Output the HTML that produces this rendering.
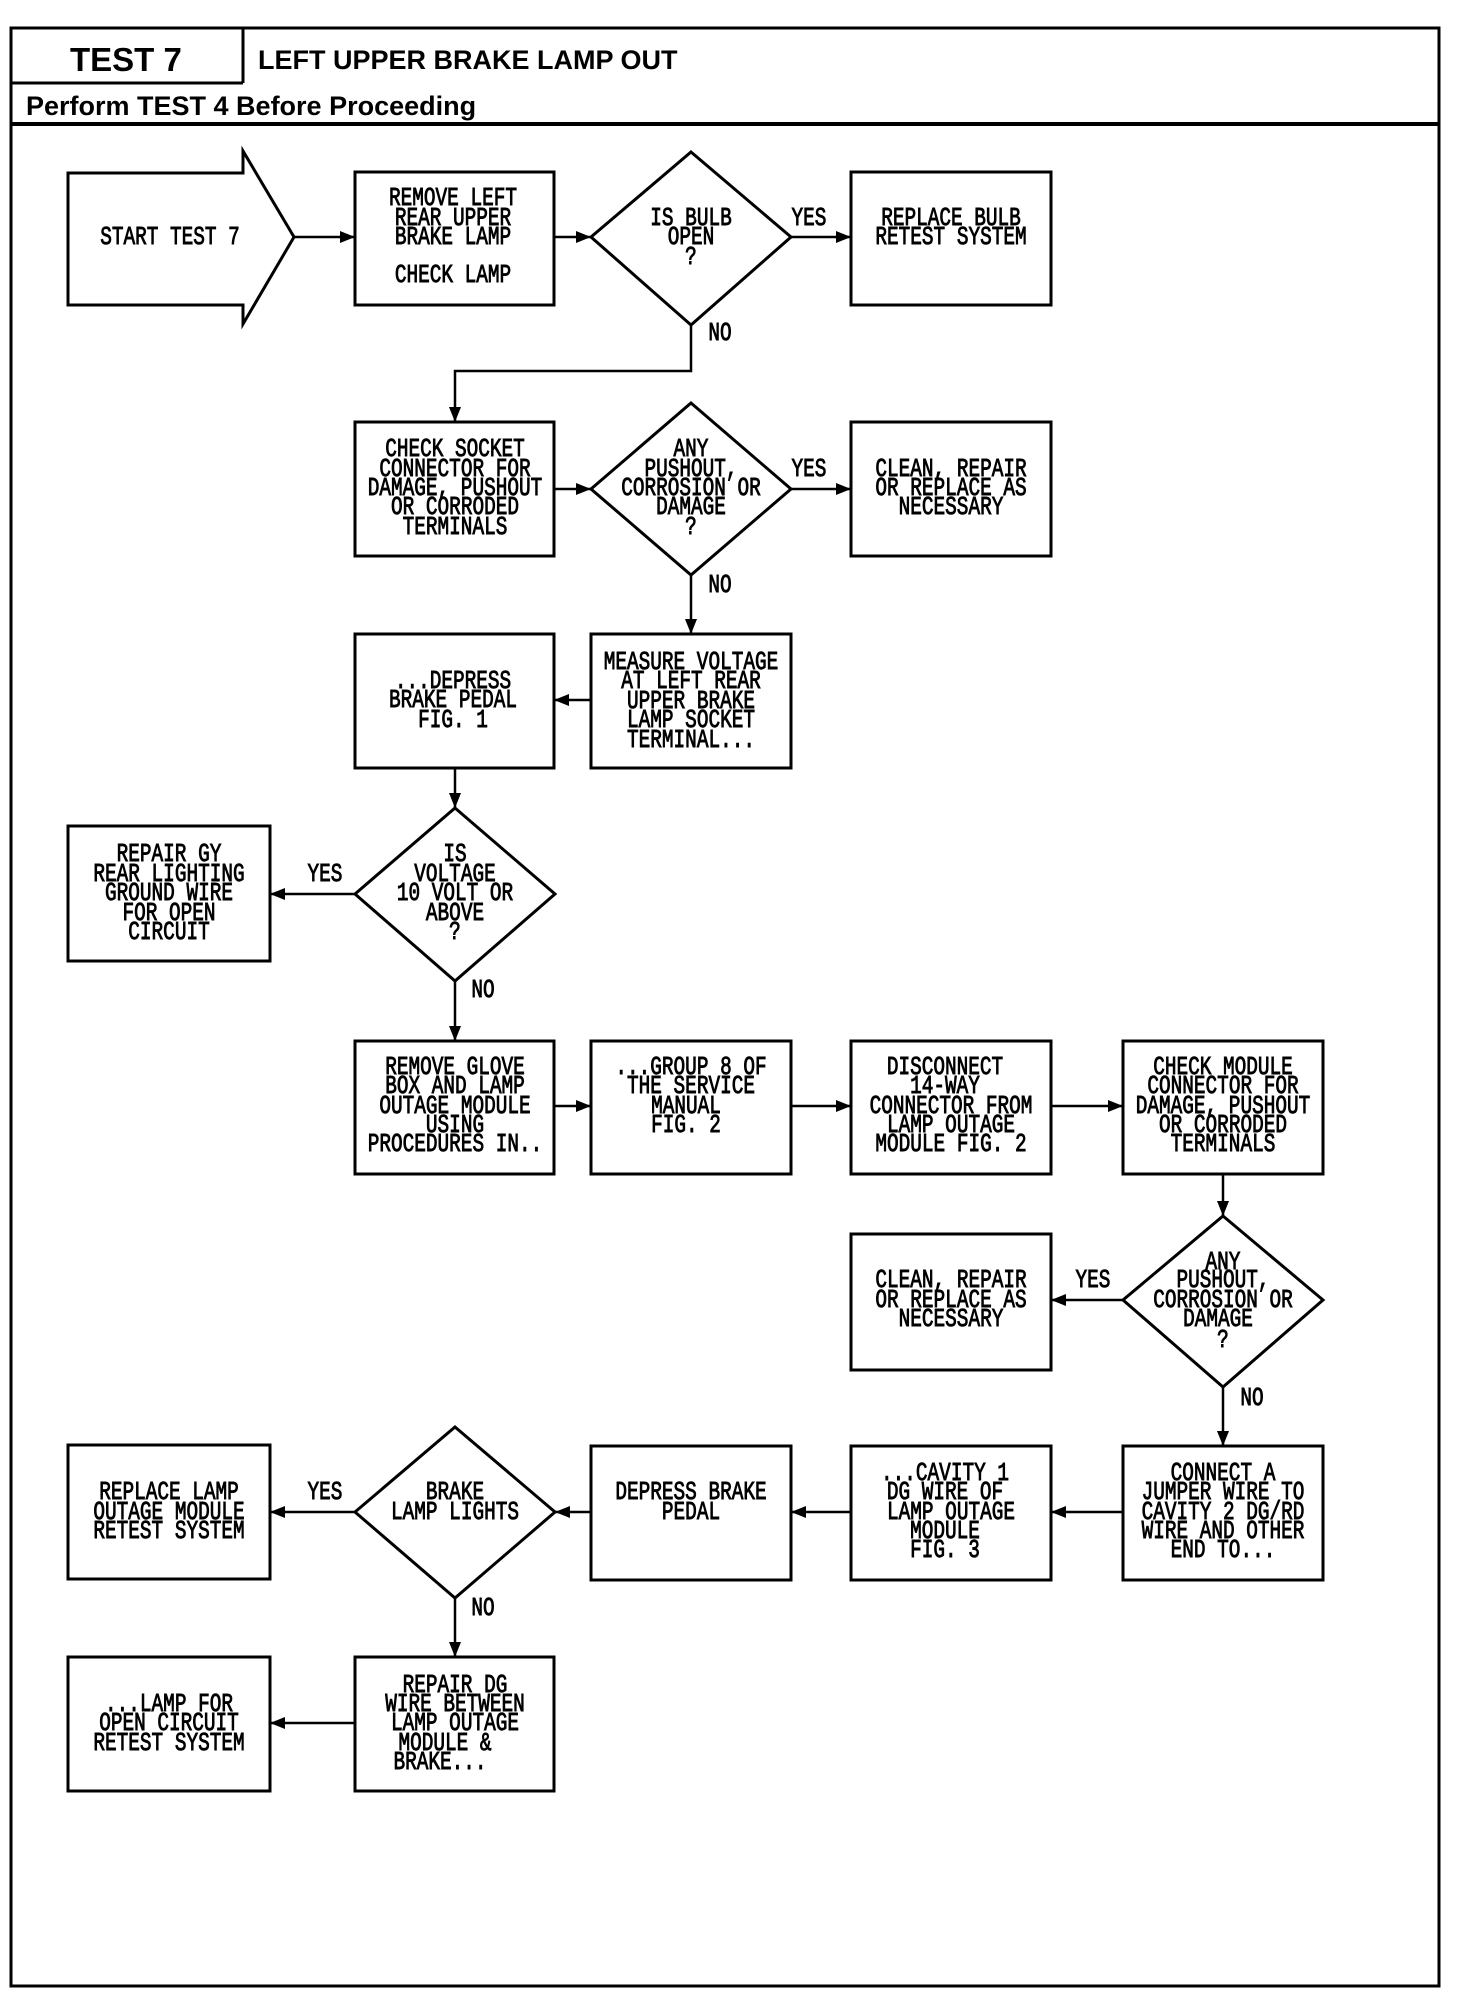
<!DOCTYPE html>
<html><head><meta charset="utf-8"><style>
html,body{margin:0;padding:0;background:#fff;}
svg{display:block;}
.t{font-family:"Liberation Mono",monospace;font-size:20px;fill:#000;stroke:#000;stroke-width:0.7;}
.h{font-family:"Liberation Sans",sans-serif;font-weight:bold;fill:#000;}
</style></head><body>
<svg width="1472" height="2004" viewBox="0 0 1472 2004" xmlns="http://www.w3.org/2000/svg">
<defs>
<marker id="a" viewBox="0 0 10 10" refX="10" refY="5" markerWidth="6" markerHeight="6" orient="auto"><path d="M0,1 L10,5 L0,9 z" fill="#000"/></marker>
</defs>
<g fill="none" stroke="#000" stroke-width="3">
<rect x="11" y="28" width="1428" height="1958"/>
<line x1="243" y1="28" x2="243" y2="83"/>
<line x1="11" y1="83" x2="243" y2="83"/>
<line x1="11" y1="124" x2="1439" y2="124" stroke-width="4"/>
<path d="M68,173 L243,173 L243,151 L294,237 L243,324 L243,305 L68,305 Z"/>
<rect x="355" y="172" width="199" height="133"/>
<path d="M691,152 L791,237 L691,325 L591,237 Z"/>
<rect x="851" y="172" width="200" height="133"/>
<rect x="355" y="422" width="199" height="134"/>
<path d="M691,403 L791,489 L691,575 L591,489 Z"/>
<rect x="851" y="422" width="200" height="134"/>
<rect x="355" y="634" width="199" height="134"/>
<rect x="591" y="634" width="200" height="134"/>
<path d="M455,808 L555,894 L455,981 L355,894 Z"/>
<rect x="68" y="826" width="202" height="135"/>
<rect x="355" y="1041" width="199" height="133"/>
<rect x="591" y="1041" width="200" height="133"/>
<rect x="851" y="1041" width="200" height="133"/>
<rect x="1123" y="1041" width="200" height="133"/>
<path d="M1223,1216 L1323,1300 L1223,1387 L1123,1300 Z"/>
<rect x="851" y="1234" width="200" height="136"/>
<rect x="68" y="1445" width="202" height="134"/>
<path d="M455,1427 L555,1512 L455,1598 L355,1512 Z"/>
<rect x="591" y="1446" width="200" height="134"/>
<rect x="851" y="1446" width="200" height="134"/>
<rect x="1123" y="1446" width="200" height="134"/>
<rect x="68" y="1657" width="202" height="134"/>
<rect x="355" y="1657" width="199" height="134"/>
</g>
<g fill="none" stroke="#000" stroke-width="2.5" marker-end="url(#a)">
<line x1="294" y1="237" x2="355" y2="237"/>
<line x1="554" y1="237" x2="591" y2="237"/>
<line x1="791" y1="237" x2="851" y2="237"/>
<polyline points="691,325 691,371 455,371 455,422"/>
<line x1="554" y1="489" x2="591" y2="489"/>
<line x1="791" y1="489" x2="851" y2="489"/>
<line x1="691" y1="575" x2="691" y2="634"/>
<line x1="591" y1="700" x2="554" y2="700"/>
<line x1="455" y1="768" x2="455" y2="808"/>
<line x1="355" y1="894" x2="270" y2="894"/>
<line x1="455" y1="981" x2="455" y2="1041"/>
<line x1="554" y1="1106" x2="591" y2="1106"/>
<line x1="791" y1="1106" x2="851" y2="1106"/>
<line x1="1051" y1="1106" x2="1123" y2="1106"/>
<line x1="1223" y1="1174" x2="1223" y2="1216"/>
<line x1="1123" y1="1300" x2="1051" y2="1300"/>
<line x1="1223" y1="1387" x2="1223" y2="1446"/>
<line x1="1123" y1="1512" x2="1051" y2="1512"/>
<line x1="851" y1="1512" x2="791" y2="1512"/>
<line x1="591" y1="1512" x2="555" y2="1512"/>
<line x1="355" y1="1512" x2="270" y2="1512"/>
<line x1="455" y1="1598" x2="455" y2="1657"/>
<line x1="355" y1="1723" x2="270" y2="1723"/>
</g>
<text class="h" x="70" y="71" font-size="33">TEST 7</text>
<text class="h" x="258" y="69" font-size="27">LEFT UPPER BRAKE LAMP OUT</text>
<text class="h" x="26" y="115" font-size="27">Perform TEST 4 Before Proceeding</text>
<g class="t" text-anchor="middle" dominant-baseline="central">
<g transform="translate(170,237) scale(0.97,1.3)"><text>START TEST 7</text></g>
<g transform="translate(453,198) scale(0.97,1.3)"><text>REMOVE LEFT</text></g>
<g transform="translate(453,218) scale(0.97,1.3)"><text>REAR UPPER </text></g>
<g transform="translate(453,237) scale(0.97,1.3)"><text>BRAKE LAMP </text></g>
<g transform="translate(453,275) scale(0.97,1.3)"><text>CHECK LAMP </text></g>
<g transform="translate(691,218) scale(0.97,1.3)"><text>IS BULB</text></g>
<g transform="translate(691,237) scale(0.97,1.3)"><text>OPEN</text></g>
<g transform="translate(691,257) scale(0.97,1.3)"><text>?</text></g>
<g transform="translate(951,218) scale(0.97,1.3)"><text>REPLACE BULB </text></g>
<g transform="translate(951,237) scale(0.97,1.3)"><text>RETEST SYSTEM</text></g>
<g transform="translate(809,218) scale(0.97,1.3)"><text>YES</text></g>
<g transform="translate(720,333) scale(0.97,1.3)"><text>NO</text></g>

<g transform="translate(455,449) scale(0.97,1.3)"><text>CHECK SOCKET</text></g>
<g transform="translate(455,469) scale(0.97,1.3)"><text>CONNECTOR FOR</text></g>
<g transform="translate(455,488) scale(0.97,1.3)"><text>DAMAGE, PUSHOUT</text></g>
<g transform="translate(455,507) scale(0.97,1.3)"><text>OR CORRODED</text></g>
<g transform="translate(455,527) scale(0.97,1.3)"><text>TERMINALS</text></g>
<g transform="translate(691,449) scale(0.97,1.3)"><text>ANY</text></g>
<g transform="translate(691,469) scale(0.97,1.3)"><text>PUSHOUT,</text></g>
<g transform="translate(691,488) scale(0.97,1.3)"><text>CORROSION OR</text></g>
<g transform="translate(691,507) scale(0.97,1.3)"><text>DAMAGE</text></g>
<g transform="translate(691,527) scale(0.97,1.3)"><text>?</text></g>
<g transform="translate(951,469) scale(0.97,1.3)"><text>CLEAN, REPAIR</text></g>
<g transform="translate(951,488) scale(0.97,1.3)"><text>OR REPLACE AS</text></g>
<g transform="translate(951,507) scale(0.97,1.3)"><text>NECESSARY</text></g>
<g transform="translate(809,469) scale(0.97,1.3)"><text>YES</text></g>
<g transform="translate(720,585) scale(0.97,1.3)"><text>NO</text></g>

<g transform="translate(691,662) scale(0.97,1.3)"><text>MEASURE VOLTAGE</text></g>
<g transform="translate(691,681) scale(0.97,1.3)"><text>AT LEFT REAR</text></g>
<g transform="translate(691,701) scale(0.97,1.3)"><text>UPPER BRAKE</text></g>
<g transform="translate(691,720) scale(0.97,1.3)"><text>LAMP SOCKET</text></g>
<g transform="translate(691,740) scale(0.97,1.3)"><text>TERMINAL...</text></g>
<g transform="translate(453,681) scale(0.97,1.3)"><text>...DEPRESS</text></g>
<g transform="translate(453,700) scale(0.97,1.3)"><text>BRAKE PEDAL</text></g>
<g transform="translate(453,720) scale(0.97,1.3)"><text>FIG. 1</text></g>

<g transform="translate(455,854) scale(0.97,1.3)"><text>IS</text></g>
<g transform="translate(455,874) scale(0.97,1.3)"><text>VOLTAGE</text></g>
<g transform="translate(455,893) scale(0.97,1.3)"><text>10 VOLT OR</text></g>
<g transform="translate(455,913) scale(0.97,1.3)"><text>ABOVE</text></g>
<g transform="translate(455,932) scale(0.97,1.3)"><text>?</text></g>
<g transform="translate(169,854) scale(0.97,1.3)"><text>REPAIR GY</text></g>
<g transform="translate(169,874) scale(0.97,1.3)"><text>REAR LIGHTING</text></g>
<g transform="translate(169,893) scale(0.97,1.3)"><text>GROUND WIRE</text></g>
<g transform="translate(169,913) scale(0.97,1.3)"><text>FOR OPEN</text></g>
<g transform="translate(169,932) scale(0.97,1.3)"><text>CIRCUIT</text></g>
<g transform="translate(325,874) scale(0.97,1.3)"><text>YES</text></g>
<g transform="translate(483,990) scale(0.97,1.3)"><text>NO</text></g>

<g transform="translate(455,1067) scale(0.97,1.3)"><text>REMOVE GLOVE</text></g>
<g transform="translate(455,1086) scale(0.97,1.3)"><text>BOX AND LAMP</text></g>
<g transform="translate(455,1106) scale(0.97,1.3)"><text>OUTAGE MODULE</text></g>
<g transform="translate(455,1125) scale(0.97,1.3)"><text>USING</text></g>
<g transform="translate(455,1144) scale(0.97,1.3)"><text>PROCEDURES IN..</text></g>
<g transform="translate(691,1067) scale(0.97,1.3)"><text>...GROUP 8 OF</text></g>
<g transform="translate(691,1086) scale(0.97,1.3)"><text>THE SERVICE</text></g>
<g transform="translate(686,1106) scale(0.97,1.3)"><text>MANUAL</text></g>
<g transform="translate(686,1125) scale(0.97,1.3)"><text>FIG. 2</text></g>
<g transform="translate(945,1067) scale(0.97,1.3)"><text>DISCONNECT</text></g>
<g transform="translate(945,1086) scale(0.97,1.3)"><text>14-WAY</text></g>
<g transform="translate(951,1106) scale(0.97,1.3)"><text>CONNECTOR FROM</text></g>
<g transform="translate(951,1125) scale(0.97,1.3)"><text>LAMP OUTAGE</text></g>
<g transform="translate(951,1144) scale(0.97,1.3)"><text>MODULE FIG. 2</text></g>
<g transform="translate(1223,1067) scale(0.97,1.3)"><text>CHECK MODULE</text></g>
<g transform="translate(1223,1086) scale(0.97,1.3)"><text>CONNECTOR FOR</text></g>
<g transform="translate(1223,1106) scale(0.97,1.3)"><text>DAMAGE, PUSHOUT</text></g>
<g transform="translate(1223,1125) scale(0.97,1.3)"><text>OR CORRODED</text></g>
<g transform="translate(1223,1144) scale(0.97,1.3)"><text>TERMINALS</text></g>

<g transform="translate(1223,1262) scale(0.97,1.3)"><text>ANY</text></g>
<g transform="translate(1223,1280) scale(0.97,1.3)"><text>PUSHOUT,</text></g>
<g transform="translate(1223,1300) scale(0.97,1.3)"><text>CORROSION OR</text></g>
<g transform="translate(1218,1319) scale(0.97,1.3)"><text>DAMAGE</text></g>
<g transform="translate(1223,1340) scale(0.97,1.3)"><text>?</text></g>
<g transform="translate(951,1280) scale(0.97,1.3)"><text>CLEAN, REPAIR</text></g>
<g transform="translate(951,1300) scale(0.97,1.3)"><text>OR REPLACE AS</text></g>
<g transform="translate(951,1319) scale(0.97,1.3)"><text>NECESSARY</text></g>
<g transform="translate(1093,1280) scale(0.97,1.3)"><text>YES</text></g>
<g transform="translate(1252,1398) scale(0.97,1.3)"><text>NO</text></g>

<g transform="translate(1223,1473) scale(0.97,1.3)"><text>CONNECT A</text></g>
<g transform="translate(1223,1492) scale(0.97,1.3)"><text>JUMPER WIRE TO</text></g>
<g transform="translate(1223,1512) scale(0.97,1.3)"><text>CAVITY 2 DG/RD</text></g>
<g transform="translate(1223,1531) scale(0.97,1.3)"><text>WIRE AND OTHER</text></g>
<g transform="translate(1223,1550) scale(0.97,1.3)"><text>END TO...</text></g>
<g transform="translate(945,1473) scale(0.97,1.3)"><text>...CAVITY 1</text></g>
<g transform="translate(945,1492) scale(0.97,1.3)"><text>DG WIRE OF</text></g>
<g transform="translate(951,1512) scale(0.97,1.3)"><text>LAMP OUTAGE</text></g>
<g transform="translate(945,1531) scale(0.97,1.3)"><text>MODULE</text></g>
<g transform="translate(945,1550) scale(0.97,1.3)"><text>FIG. 3</text></g>
<g transform="translate(691,1492) scale(0.97,1.3)"><text>DEPRESS BRAKE</text></g>
<g transform="translate(691,1512) scale(0.97,1.3)"><text>PEDAL</text></g>
<g transform="translate(455,1492) scale(0.97,1.3)"><text>BRAKE</text></g>
<g transform="translate(455,1512) scale(0.97,1.3)"><text>LAMP LIGHTS</text></g>
<g transform="translate(169,1492) scale(0.97,1.3)"><text>REPLACE LAMP </text></g>
<g transform="translate(169,1512) scale(0.97,1.3)"><text>OUTAGE MODULE</text></g>
<g transform="translate(169,1531) scale(0.97,1.3)"><text>RETEST SYSTEM</text></g>
<g transform="translate(325,1492) scale(0.97,1.3)"><text>YES</text></g>
<g transform="translate(483,1608) scale(0.97,1.3)"><text>NO</text></g>

<g transform="translate(455,1685) scale(0.97,1.3)"><text>REPAIR DG</text></g>
<g transform="translate(455,1704) scale(0.97,1.3)"><text>WIRE BETWEEN</text></g>
<g transform="translate(455,1723) scale(0.97,1.3)"><text>LAMP OUTAGE</text></g>
<g transform="translate(445,1743) scale(0.97,1.3)"><text>MODULE &amp;</text></g>
<g transform="translate(440,1762) scale(0.97,1.3)"><text>BRAKE...</text></g>
<g transform="translate(169,1704) scale(0.97,1.3)"><text>...LAMP FOR</text></g>
<g transform="translate(169,1723) scale(0.97,1.3)"><text>OPEN CIRCUIT </text></g>
<g transform="translate(169,1743) scale(0.97,1.3)"><text>RETEST SYSTEM</text></g>
</g>
</svg>
</body></html>
